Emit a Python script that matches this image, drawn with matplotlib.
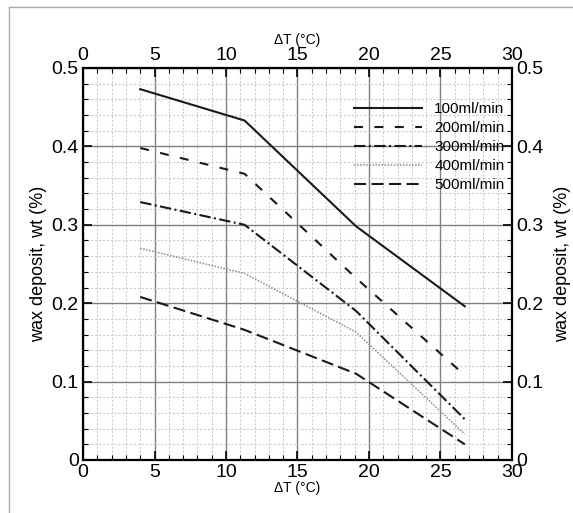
import matplotlib
matplotlib.use("Agg")
import matplotlib.pyplot as plt
from matplotlib.ticker import MultipleLocator, FormatStrFormatter
from matplotlib.lines import Line2D

plt.rcParams['font.family'] = ['Liberation Sans', 'DejaVu Sans']

delta_t = [4.0, 11.3, 19.1, 26.7]
series_labels = ['100ml/min', '200ml/min', '300ml/min', '400ml/min', '500ml/min']
s100 = [0.473, 0.433, 0.298, 0.196]
s200 = [0.398, 0.365, 0.232, 0.108]
s300 = [0.329, 0.300, 0.190, 0.052]
s400 = [0.270, 0.238, 0.163, 0.033]
s500 = [0.208, 0.166, 0.110, 0.020]
x_ticks = [0, 5, 10, 15, 20, 25, 30]
y_ticks = [0, 0.1, 0.2, 0.3, 0.4, 0.5]

fig = plt.figure(figsize=(5.73, 5.13), dpi=100)
ax = fig.add_axes([83/573, 53/513, 429/573, 392/513])

# frame lines of the image (top and left)
fig.add_artist(Line2D([9/573, 1], [1-7/513, 1-7/513], transform=fig.transFigure, color='#aaaaaa', lw=1))
fig.add_artist(Line2D([9/573, 9/573], [0, 1-7/513], transform=fig.transFigure, color='#aaaaaa', lw=1))

styles = [
    dict(color='#1a1a1a', lw=1.5, linestyle='-'),
    dict(color='#1a1a1a', lw=1.5, linestyle=(0, (4.3, 5.5))),
    dict(color='#1a1a1a', lw=1.5, linestyle=(0, (5.5, 1.6, 1.0, 1.6))),
    dict(color='#8a8a8a', lw=1.1, linestyle=(0, (1, 1))),
    dict(color='#1a1a1a', lw=1.5, linestyle=(0, (5.8, 2.6))),
]
for ys, lab, st in zip([s100, s200, s300, s400, s500], series_labels, styles):
    ax.plot(delta_t, ys, label=lab, **st)

ax.set_xlim(0, 30)
ax.set_ylim(0, 0.5)
ax.set_xticks(x_ticks)
ax.set_yticks(y_ticks)
ax.xaxis.set_minor_locator(MultipleLocator(1))
ax.yaxis.set_minor_locator(MultipleLocator(0.02))
ax.yaxis.set_major_formatter(FormatStrFormatter('%g'))
ax.xaxis.set_major_formatter(FormatStrFormatter('%g'))

ax.grid(which='major', color='#808080', lw=1.0, linestyle='-')
ax.grid(which='minor', color='#cccccc', lw=0.8, linestyle=(0, (2, 1.5)))
ax.set_axisbelow(True)

ax.tick_params(which='both', direction='in', top=True, right=True,
               labeltop=True, labelright=True, labelsize=14, color='black')
ax.tick_params(which='major', length=6.5, width=1.2, pad=3)
ax.tick_params(which='minor', length=3.5, width=0.8)
for sp in ax.spines.values():
    sp.set_linewidth(1.6)
    sp.set_color('black')

ax.set_ylabel('wax deposit, wt (%)', fontsize=13, labelpad=3)
ax2 = ax.secondary_yaxis('right')
ax2.set_yticks([])
ax2.tick_params(length=0)
ax2.set_ylabel('wax deposit, wt (%)', fontsize=13, labelpad=30)
ax2.spines['right'].set_visible(False)

fig.text(297/573, 1-40/513, 'ΔT (°C)', fontsize=10, ha='center', va='center')
fig.text(297/573, 1-488/513, 'ΔT (°C)', fontsize=10, ha='center', va='center')

leg = ax.legend(loc='upper left', bbox_to_anchor=(0.632, 0.912), frameon=False,
                fontsize=11, handlelength=4.45, handletextpad=0.8,
                labelspacing=0.32, borderpad=0, borderaxespad=0)

fig.savefig('out.png', dpi=100)
